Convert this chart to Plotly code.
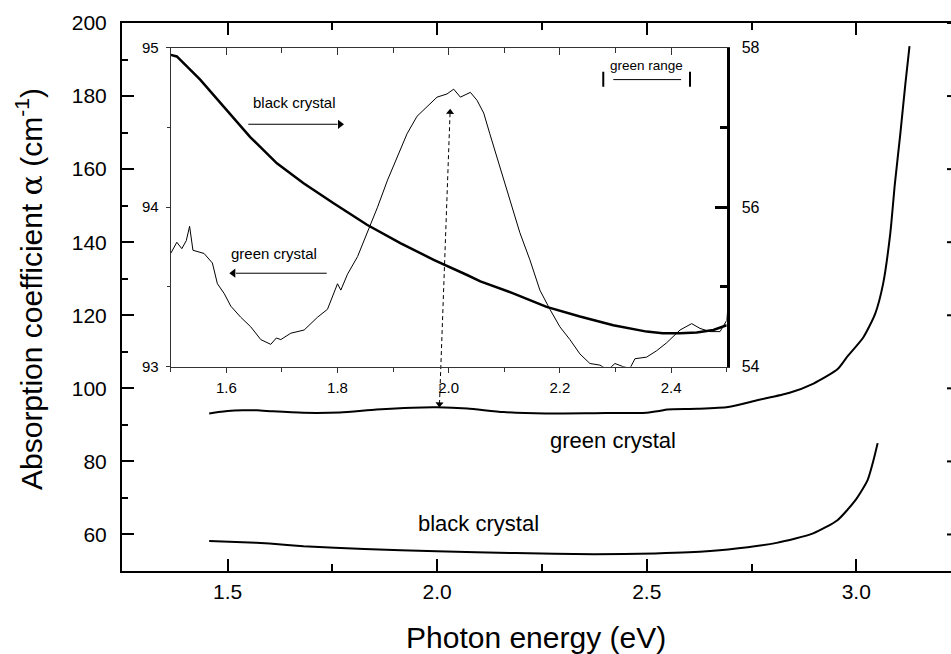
import plotly.graph_objects as go

# ---------------- data ----------------
# main panel: absorption coefficient (cm^-1) vs photon energy (eV)
green_x = [1.456, 1.478, 1.50, 1.536, 1.57, 1.608, 1.681, 1.768, 1.855, 1.941, 2.00, 2.072,
           2.158, 2.259, 2.375, 2.50, 2.53, 2.549, 2.62, 2.694, 2.766, 2.839, 2.898, 2.955,
           2.978, 3.017, 3.045, 3.064, 3.081, 3.092, 3.105, 3.117, 3.127]
green_y = [93.1, 93.5, 93.8, 94.0, 94.0, 93.7, 93.3, 93.4, 94.2, 94.7, 94.8, 94.45,
           93.5, 93.1, 93.2, 93.35, 93.8, 94.2, 94.4, 94.9, 96.8, 98.7, 101.3, 105.2,
           108.6, 114.0, 120.4, 128.6, 142.3, 155.9, 169.6, 183.2, 193.7]

black_x = [1.456, 1.536, 1.60, 1.681, 1.826, 1.999, 2.187, 2.375, 2.52, 2.60, 2.694,
           2.81, 2.897, 2.955, 2.998, 3.027, 3.041, 3.051]
black_y = [58.2, 57.9, 57.5, 56.8, 56.0, 55.4, 54.9, 54.6, 54.8, 55.1, 55.9,
           57.7, 60.3, 63.9, 69.4, 74.9, 80.3, 85.0]

# inset: green crystal (left axis 93-95)
ins_green_x = [1.500, 1.511, 1.520, 1.528, 1.534, 1.540, 1.560, 1.575, 1.584, 1.596, 1.608,
               1.626, 1.644, 1.662, 1.680, 1.690, 1.698, 1.716, 1.740, 1.764, 1.782, 1.800,
               1.806, 1.818, 1.836, 1.854, 1.872, 1.890, 1.908, 1.925, 1.943, 1.958, 1.979,
               1.997, 2.009, 2.021, 2.039, 2.051, 2.063, 2.074, 2.092, 2.110, 2.128, 2.146,
               2.164, 2.182, 2.200, 2.218, 2.236, 2.254, 2.272, 2.286, 2.299, 2.314, 2.326,
               2.335, 2.356, 2.374, 2.392, 2.410, 2.416, 2.437, 2.452, 2.470, 2.488, 2.500, 2.503]
ins_green_y = [93.71, 93.78, 93.74, 93.79, 93.88, 93.73, 93.71, 93.65, 93.52, 93.46, 93.38,
               93.31, 93.25, 93.17, 93.14, 93.18, 93.17, 93.21, 93.23, 93.31, 93.36, 93.52,
               93.48, 93.58, 93.69, 93.84, 94.00, 94.17, 94.32, 94.46, 94.57, 94.62, 94.69,
               94.71, 94.74, 94.69, 94.72, 94.67, 94.59, 94.46, 94.25, 94.04, 93.84, 93.67,
               93.48, 93.36, 93.25, 93.17, 93.08, 93.02, 93.01, 92.98, 93.02, 93.00, 92.99,
               93.05, 93.06, 93.10, 93.15, 93.21, 93.23, 93.27, 93.24, 93.22, 93.22, 93.29, 93.40]

# inset: black crystal (right axis 54-58)
ins_black_x = [1.500, 1.511, 1.553, 1.601, 1.643, 1.691, 1.739, 1.793, 1.853, 1.913, 1.973,
               2.033, 2.057, 2.116, 2.176, 2.236, 2.296, 2.356, 2.385, 2.416, 2.446, 2.476, 2.500]
ins_black_y = [57.91, 57.89, 57.60, 57.22, 56.88, 56.55, 56.30, 56.05, 55.78, 55.55, 55.34,
               55.15, 55.07, 54.92, 54.75, 54.63, 54.52, 54.44, 54.42, 54.42, 54.43, 54.46, 54.52]

main_yticks = [60, 80, 100, 120, 140, 160, 180, 200]

FONT = "Liberation Sans, Arial, Helvetica, sans-serif"

fig = go.Figure()

# main curves
fig.add_trace(go.Scatter(x=green_x, y=green_y, mode="lines", line=dict(color="black", width=2, shape="spline", smoothing=0.6),
                         xaxis="x", yaxis="y", showlegend=False, hoverinfo="skip"))
fig.add_trace(go.Scatter(x=black_x, y=black_y, mode="lines", line=dict(color="black", width=2, shape="spline", smoothing=0.6),
                         xaxis="x", yaxis="y", showlegend=False, hoverinfo="skip"))
# inset curves
fig.add_trace(go.Scatter(x=ins_green_x, y=ins_green_y, mode="lines", line=dict(color="black", width=1),
                         xaxis="x2", yaxis="y2", showlegend=False, hoverinfo="skip"))
fig.add_trace(go.Scatter(x=ins_black_x, y=ins_black_y, mode="lines", line=dict(color="black", width=2.5),
                         xaxis="x2", yaxis="y3", showlegend=False, hoverinfo="skip"))
# dummy trace for the inset's top axis
fig.add_trace(go.Scatter(x=[None], y=[None], xaxis="x4", yaxis="y2", showlegend=False, hoverinfo="skip"))

# ---- annotation arrows (line + triangular head) ----
# inset: "black crystal ->" (points to right-hand axis)
fig.add_trace(go.Scatter(x=[1.6396, 1.800], y=[94.52, 94.52], mode="lines", line=dict(color="black", width=1),
                         xaxis="x2", yaxis="y2", showlegend=False, hoverinfo="skip"))
fig.add_trace(go.Scatter(x=[1.8045], y=[94.52], mode="markers",
                         marker=dict(symbol="triangle-right", size=8, color="black", line=dict(width=0)),
                         xaxis="x2", yaxis="y2", showlegend=False, hoverinfo="skip"))
# inset: "<- green crystal" (points to left-hand axis)
fig.add_trace(go.Scatter(x=[1.7806, 1.617], y=[93.586, 93.586], mode="lines", line=dict(color="black", width=1),
                         xaxis="x2", yaxis="y2", showlegend=False, hoverinfo="skip"))
fig.add_trace(go.Scatter(x=[1.6126], y=[93.586], mode="markers",
                         marker=dict(symbol="triangle-left", size=8, color="black", line=dict(width=0)),
                         xaxis="x2", yaxis="y2", showlegend=False, hoverinfo="skip"))
# dashed double arrow between main-curve peak and inset peak (main axes)
fig.add_trace(go.Scatter(x=[2.0055, 2.0308], y=[95.7, 175.6], mode="lines+markers",
                         line=dict(color="black", width=1, dash="4px,3px"),
                         marker=dict(symbol=["triangle-down", "triangle-up"], size=7, angle=2,
                                     color="black", line=dict(width=0)),
                         xaxis="x", yaxis="y", showlegend=False, hoverinfo="skip", cliponaxis=False))

W, H = 951, 654
L, R, T, B = 122, 0, 23, 83

# inset domain (pixels -> paper)
pw, ph = W - L - R, H - T - B
ix0, ix1 = (170.7 - L) / pw, (726.7 - L) / pw
iy0, iy1 = (H - B - 366.7) / ph, (H - B - 47.7) / ph

fig.update_layout(
    template="none",
    width=W, height=H, autosize=False,
    margin=dict(l=L, r=R, t=T, b=B, pad=0, autoexpand=False),
    paper_bgcolor="white", plot_bgcolor="rgba(0,0,0,0)",
    font=dict(family=FONT, color="black"),
    xaxis=dict(range=[1.248, 3.226], domain=[0, 1], anchor="y", automargin=False,
               showline=True, linecolor="black", linewidth=2, mirror="ticks",
               ticks="inside", ticklen=12, tickwidth=2, tickcolor="black",
               dtick=0.5, tick0=0, tickformat=".1f",
               minor=dict(ticks="inside", ticklen=7, tickwidth=2, dtick=0.25, tick0=0, tickcolor="black"),
               showgrid=False, zeroline=False,
               tickfont=dict(size=21, family=FONT), ticklabelstandoff=1),
    yaxis=dict(range=[50, 200], domain=[0, 1], anchor="x", automargin=False,
               showline=True, linecolor="black", linewidth=2, mirror=False,
               ticks="inside", ticklen=12, tickwidth=2, tickcolor="black",
               tickvals=main_yticks,
               minor=dict(ticks="inside", ticklen=6, tickwidth=2, dtick=10, tick0=0, tickcolor="black"),
               showgrid=False, zeroline=False,
               tickfont=dict(size=21, family=FONT), ticklabelstandoff=9),
    xaxis2=dict(range=[1.5, 2.5], domain=[ix0, ix1], anchor="y2", automargin=False,
                showline=True, linecolor="#333", linewidth=1,
                ticks="outside", ticklen=5, tickwidth=1, tickcolor="#333",
                dtick=0.2, tick0=0, tickformat=".1f",
                minor=dict(ticks="outside", ticklen=4, tickwidth=1, dtick=0.1, tick0=0, tickcolor="#333"),
                showgrid=False, zeroline=False,
                tickfont=dict(size=15, family=FONT), ticklabelstandoff=2),
    xaxis4=dict(range=[1.5, 2.5], overlaying="x2", anchor="y2", side="top", automargin=False,
                showline=True, linecolor="#333", linewidth=1,
                ticks="inside", ticklen=7, tickwidth=1, tickcolor="#333",
                dtick=0.2, tick0=0, showticklabels=False,
                minor=dict(ticks="inside", ticklen=5, tickwidth=1, dtick=0.1, tick0=0, tickcolor="#333"),
                showgrid=False, zeroline=False),
    yaxis2=dict(range=[93, 95], domain=[iy0, iy1], anchor="x2", automargin=False,
                showline=True, linecolor="#333", linewidth=1,
                ticks="outside", ticklen=4, tickwidth=1, tickcolor="#333",
                dtick=1, tick0=0,
                minor=dict(ticks="outside", ticklen=3, tickwidth=1, dtick=0.5, tick0=0, tickcolor="#333"),
                showgrid=False, zeroline=False,
                tickfont=dict(size=15, family=FONT), ticklabelstandoff=4),
    yaxis3=dict(range=[54, 58], overlaying="y2", anchor="x2", side="right", automargin=False,
                showline=True, linecolor="black", linewidth=2.5,
                ticks="inside", ticklen=12, tickwidth=2.5, tickcolor="black",
                dtick=2, tick0=0,
                minor=dict(ticks="inside", ticklen=7, tickwidth=2.5, dtick=1, tick0=0, tickcolor="black"),
                showgrid=False, zeroline=False,
                tickfont=dict(size=16, family=FONT), ticklabelstandoff=9),
)

shapes = []
# tips of the right-hand main ticks (the right frame lies just beyond the picture)
for v in main_yticks:
    shapes.append(dict(type="line", xref="paper", yref="y", x0=(947 - L) / pw, x1=1.0, y0=v, y1=v,
                       line=dict(color="black", width=2)))
# green range bracket (inset coords)
shapes.append(dict(type="line", xref="x2", yref="y2", x0=2.278, x1=2.278, y0=94.755, y1=94.85,
                   line=dict(color="black", width=2)))
shapes.append(dict(type="line", xref="x2", yref="y2", x0=2.434, x1=2.434, y0=94.755, y1=94.85,
                   line=dict(color="black", width=2)))
shapes.append(dict(type="line", xref="x2", yref="y2", x0=2.296, x1=2.418, y0=94.80, y1=94.80,
                   line=dict(color="black", width=1)))
fig.update_layout(shapes=shapes)

ann = []
# axis titles
ann.append(dict(xref="paper", yref="paper", x=(536 - L) / pw, y=(H - B - 637) / ph,
                text="Photon energy (eV)", showarrow=False, xanchor="center", yanchor="middle",
                font=dict(size=30, family=FONT)))
ann.append(dict(xref="paper", yref="paper", x=(29 - L) / pw, y=(H - B - 289) / ph,
                text="Absorption coefficient <span style='font-family:DejaVu Serif'>α</span> (cm<sup>-1</sup>)",
                textangle=-90, showarrow=False, xanchor="center", yanchor="middle",
                font=dict(size=30, family=FONT)))
# main labels
ann.append(dict(xref="x", yref="y", x=2.419, y=85.8, text="green crystal", showarrow=False,
                font=dict(size=22, family=FONT)))
ann.append(dict(xref="x", yref="y", x=2.098, y=63.0, text="black crystal", showarrow=False,
                font=dict(size=22, family=FONT)))
# inset labels
ann.append(dict(xref="x2", yref="y2", x=1.722, y=94.655, text="black crystal", showarrow=False,
                font=dict(size=15, family=FONT)))
ann.append(dict(xref="x2", yref="y2", x=1.686, y=93.711, text="green crystal", showarrow=False,
                font=dict(size=15, family=FONT)))
ann.append(dict(xref="x2", yref="y2", x=2.356, y=94.89, text="green range", showarrow=False,
                font=dict(size=13.5, family=FONT)))
fig.update_layout(annotations=ann)

# remove the browser's default page margin so the figure sits at the window's top-left corner
fig.write_html("out.html", config={"displayModeBar": False},
               post_script="document.body.style.margin='0';document.body.style.overflow='hidden';")
